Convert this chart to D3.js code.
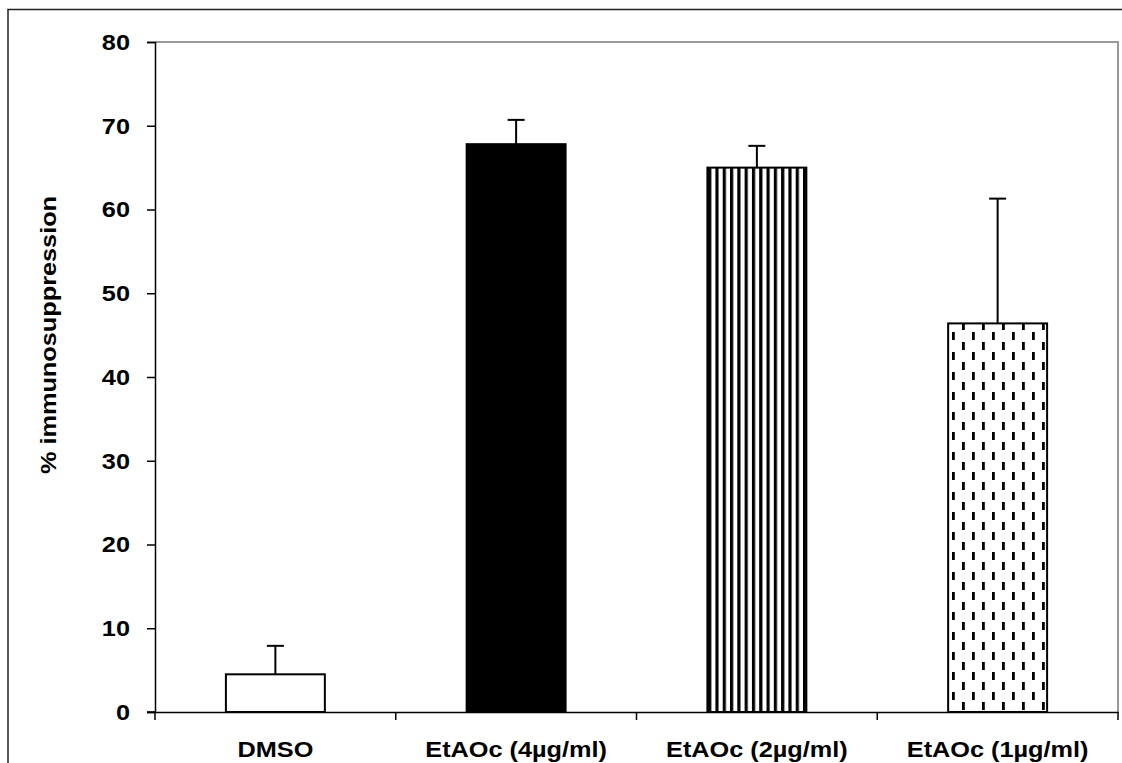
<!DOCTYPE html>
<html>
<head>
<meta charset="utf-8">
<script src="https://cdn.jsdelivr.net/npm/d3@7"></script>
<style>
  body { margin: 0; background: #fff; }
  text { font-family: "Liberation Sans", Arial, sans-serif; font-weight: bold; fill: #000; }
</style>
</head>
<body>
<div id="chart"></div>
<script>
const categories = ['DMSO', 'EtAOc (4\u00b5g/ml)', 'EtAOc (2\u00b5g/ml)', 'EtAOc (1\u00b5g/ml)'];
const means = [4.5, 67.8, 65.0, 46.4];
const errors = [3.4, 2.9, 2.6, 14.9];
const fills = ['white', 'solid', 'stripes', 'dashes'];
const yTicks = [0, 10, 20, 30, 40, 50, 60, 70, 80];
const yTitle = '% immunosuppression';

const W = 1122;
const H = 763;
const m = { t: 42, r: 4, b: 51, l: 155 };
const sx = 1.15; // text in the original is stretched a little horizontally

const svg = d3.select('#chart').append('svg').attr('width', W).attr('height', H);

const defs = svg.append('defs');
const stripes = defs.append('pattern')
  .attr('id', 'stripes')
  .attr('patternUnits', 'userSpaceOnUse')
  .attr('width', 7.3)
  .attr('height', 10);
stripes.append('rect').attr('width', 7.3).attr('height', 10).attr('fill', '#fff');
stripes.append('rect').attr('x', 0).attr('width', 3.2).attr('height', 10).attr('fill', '#000');

const dashes = defs.append('pattern')
  .attr('id', 'dashes')
  .attr('patternUnits', 'userSpaceOnUse')
  .attr('x', 2)
  .attr('y', 2)
  .attr('width', 20)
  .attr('height', 20);
dashes.append('rect').attr('width', 20).attr('height', 20).attr('fill', '#fff');
dashes.append('rect').attr('x', 0).attr('y', 0).attr('width', 2.8).attr('height', 8).attr('fill', '#000');
dashes.append('rect').attr('x', 10).attr('y', 10).attr('width', 2.8).attr('height', 8).attr('fill', '#000');

const fillOf = { white: '#fff', solid: '#000', stripes: 'url(#stripes)', dashes: 'url(#dashes)' };

// outer frame (cropped at right and bottom in the original)
svg.append('path')
  .attr('d', `M8,${H + 5}V9.5H${W + 5}`)
  .attr('fill', 'none')
  .attr('stroke', '#222')
  .attr('stroke-width', 1.5);

const x = d3.scaleBand()
  .domain(categories)
  .range([m.l, W - m.r])
  .paddingInner(0.589)
  .paddingOuter(0.2945);
const xCat = d3.scaleBand().domain(categories).range([m.l, W - m.r]);
const y = d3.scaleLinear().domain([0, 80]).range([H - m.b, m.t]);

// plot area grey frame (top and right)
svg.append('path')
  .attr('d', `M${m.l},${m.t}H${W - m.r}V${H - m.b}`)
  .attr('fill', 'none')
  .attr('stroke', '#999')
  .attr('stroke-width', 2);

// bars
svg.append('g')
  .selectAll('rect')
  .data(categories)
  .join('rect')
  .attr('x', (d) => x(d))
  .attr('y', (d, i) => y(means[i]))
  .attr('width', x.bandwidth())
  .attr('height', (d, i) => y(0) - y(means[i]))
  .attr('fill', (d, i) => fillOf[fills[i]])
  .attr('stroke', '#000')
  .attr('stroke-width', 2);

// error bars (upper only)
const eb = svg.append('g').attr('stroke', '#000').attr('stroke-width', 2);
eb.selectAll('line.v')
  .data(categories)
  .join('line')
  .attr('class', 'v')
  .attr('x1', (d) => x(d) + x.bandwidth() / 2)
  .attr('x2', (d) => x(d) + x.bandwidth() / 2)
  .attr('y1', (d, i) => y(means[i]))
  .attr('y2', (d, i) => y(means[i] + errors[i]));
eb.selectAll('line.c')
  .data(categories)
  .join('line')
  .attr('class', 'c')
  .attr('x1', (d) => x(d) + x.bandwidth() / 2 - 8.5)
  .attr('x2', (d) => x(d) + x.bandwidth() / 2 + 8.5)
  .attr('y1', (d, i) => y(means[i] + errors[i]))
  .attr('y2', (d, i) => y(means[i] + errors[i]));

// y axis
svg.append('g')
  .attr('transform', `translate(${m.l},0)`)
  .call(d3.axisLeft(y).tickValues(yTicks).tickSize(8).tickFormat(''))
  .call((g) => g.select('.domain').attr('stroke', '#000').attr('stroke-width', 1.5))
  .call((g) => g.selectAll('.tick line').attr('stroke', '#000').attr('stroke-width', 1.5));

svg.append('g')
  .selectAll('text')
  .data(yTicks)
  .join('text')
  .attr('transform', (d) => `translate(130,${y(d)}) scale(${sx},1)`)
  .attr('text-anchor', 'end')
  .attr('dy', '0.36em')
  .style('font-size', '22px')
  .text((d) => d);

// x axis
svg.append('g')
  .attr('transform', `translate(0,${y(0)})`)
  .call(d3.axisBottom(xCat).tickSize(0).tickFormat(''))
  .call((g) => g.select('.domain').attr('stroke', '#000').attr('stroke-width', 1.5));

const xTickPos = [m.l, ...categories.map((d) => xCat(d) + xCat.bandwidth())];
svg.append('g')
  .selectAll('line')
  .data(xTickPos)
  .join('line')
  .attr('x1', (d) => d)
  .attr('x2', (d) => d)
  .attr('y1', y(0))
  .attr('y2', y(0) + 8)
  .attr('stroke', '#000')
  .attr('stroke-width', 1.5);

// y-axis tick extending left at 0
svg.append('line')
  .attr('x1', m.l - 8)
  .attr('x2', m.l)
  .attr('y1', y(0))
  .attr('y2', y(0))
  .attr('stroke', '#000')
  .attr('stroke-width', 1.5);

svg.append('g')
  .selectAll('text')
  .data(categories)
  .join('text')
  .attr('transform', (d) => `translate(${xCat(d) + xCat.bandwidth() / 2},757) scale(${sx},1)`)
  .attr('text-anchor', 'middle')
  .style('font-size', '22px')
  .text((d) => d);

svg.append('text')
  .attr('transform', `translate(48,335) rotate(-90) scale(${sx},1)`)
  .attr('text-anchor', 'middle')
  .attr('dy', '0.36em')
  .style('font-size', '22px')
  .text(yTitle);
</script>
</body>
</html>
